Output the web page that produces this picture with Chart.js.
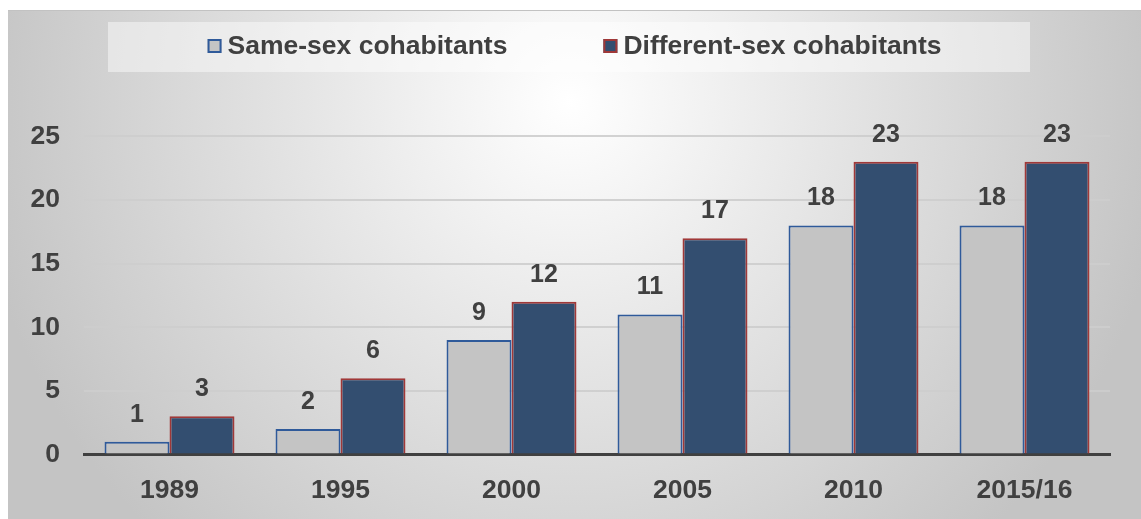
<!DOCTYPE html>
<html>
<head>
<meta charset="utf-8">
<script src="https://cdn.jsdelivr.net/npm/chart.js@4.4.1/dist/chart.umd.min.js"></script>
<style>
  html, body { margin: 0; padding: 0; background: #ffffff; width: 1141px; height: 519px; overflow: hidden; }
  #wrap {
    position: absolute; left: 8px; top: 10px; width: 1133px; height: 509px;
    background: radial-gradient(circle 600px at 562px 90px, #ffffff 0%, #c4c4c4 100%);
    border-top: 1px solid #c2c2c2; box-sizing: border-box;
  }
  canvas { display: block; }
</style>
</head>
<body>
<div id="wrap"><canvas id="c" width="1133" height="508"></canvas></div>
<script>
const categories = ['1989', '1995', '2000', '2005', '2010', '2015/16'];
const sameSex = [1, 2, 9, 11, 18, 18];
const differentSex = [3, 6, 12, 17, 23, 23];
const seriesNames = ['Same-sex cohabitants', 'Different-sex cohabitants'];
const yTicks = [0, 5, 10, 15, 20, 25];

const TEXT = '#404040';
const FONT = '"Liberation Sans", Arial, sans-serif';

// Legend panel + entries drawn from the chart's own datasets
const legendPanel = {
  id: 'legendPanel',
  beforeDraw(chart) {
    const ctx = chart.ctx;
    ctx.save();
    ctx.fillStyle = 'rgba(255,255,255,0.45)';
    ctx.fillRect(100, 11, 922, 50);
    ctx.font = 'bold 26.5px ' + FONT;
    ctx.textBaseline = 'middle';
    ctx.textAlign = 'left';
    const box = 14, gapText = 6, gapItems = 96, cy = 35;
    const items = chart.data.datasets.map(ds => ({ ds, w: ctx.measureText(ds.label).width }));
    const total = items.reduce((s, it) => s + box + gapText + it.w, 0) + gapItems * (items.length - 1);
    let x = 566.5 - total / 2;
    items.forEach(it => {
      ctx.fillStyle = it.ds.backgroundColor;
      ctx.fillRect(x, cy - box / 2, box, box);
      ctx.strokeStyle = it.ds.borderColor;
      ctx.lineWidth = 2;
      ctx.strokeRect(x + 1, cy - box / 2 + 1, box - 2, box - 2);
      ctx.fillStyle = TEXT;
      ctx.fillText(it.ds.label, x + box + gapText, cy + 1);
      x += box + gapText + it.w + gapItems;
    });
    ctx.restore();
  }
};

const valueLabels = {
  id: 'valueLabels',
  afterDatasetsDraw(chart) {
    const ctx = chart.ctx;
    ctx.save();
    ctx.fillStyle = TEXT;
    ctx.font = 'bold 25px ' + FONT;
    ctx.textAlign = 'center';
    ctx.textBaseline = 'middle';
    chart.data.datasets.forEach((ds, di) => {
      const meta = chart.getDatasetMeta(di);
      meta.data.forEach((el, i) => {
        ctx.fillText(String(ds.data[i]), el.x, el.y - 27);
      });
    });
    ctx.restore();
  }
};

new Chart(document.getElementById('c'), {
  type: 'bar',
  data: {
    labels: categories,
    datasets: [
      {
        label: seriesNames[0],
        data: sameSex,
        backgroundColor: '#c4c4c4',
        borderColor: '#2f5a9a',
        borderWidth: 2,
        borderSkipped: 'bottom'
      },
      {
        label: seriesNames[1],
        data: differentSex,
        backgroundColor: '#334e70',
        borderColor: '#a03838',
        borderWidth: 2,
        borderSkipped: 'bottom'
      }
    ]
  },
  options: {
    responsive: false,
    animation: false,
    layout: { padding: { left: 0, right: 31, top: 125.4, bottom: 0 } },
    datasets: { bar: { barPercentage: 1.0, categoryPercentage: 0.76 } },
    plugins: {
      tooltip: { enabled: false },
      legend: { display: false }
    },
    scales: {
      x: {
        grid: { display: false, drawTicks: false },
        border: { display: true, color: '#404040', width: 3 },
        ticks: { color: TEXT, font: { family: FONT, size: 26.5, weight: 'bold' }, padding: 20 },
        afterFit(scale) { scale.height = 64.5; }
      },
      y: {
        min: 0,
        max: 25,
        afterBuildTicks(scale) { scale.ticks = yTicks.map(v => ({ value: v })); },
        grid: { color: 'rgba(205,205,205,0.9)', lineWidth: 2, drawTicks: false },
        border: { display: false },
        ticks: { color: TEXT, font: { family: FONT, size: 26.5, weight: 'bold' }, padding: 24 },
        afterFit(scale) { scale.width = 76; }
      }
    }
  },
  plugins: [legendPanel, valueLabels]
});
</script>
</body>
</html>
